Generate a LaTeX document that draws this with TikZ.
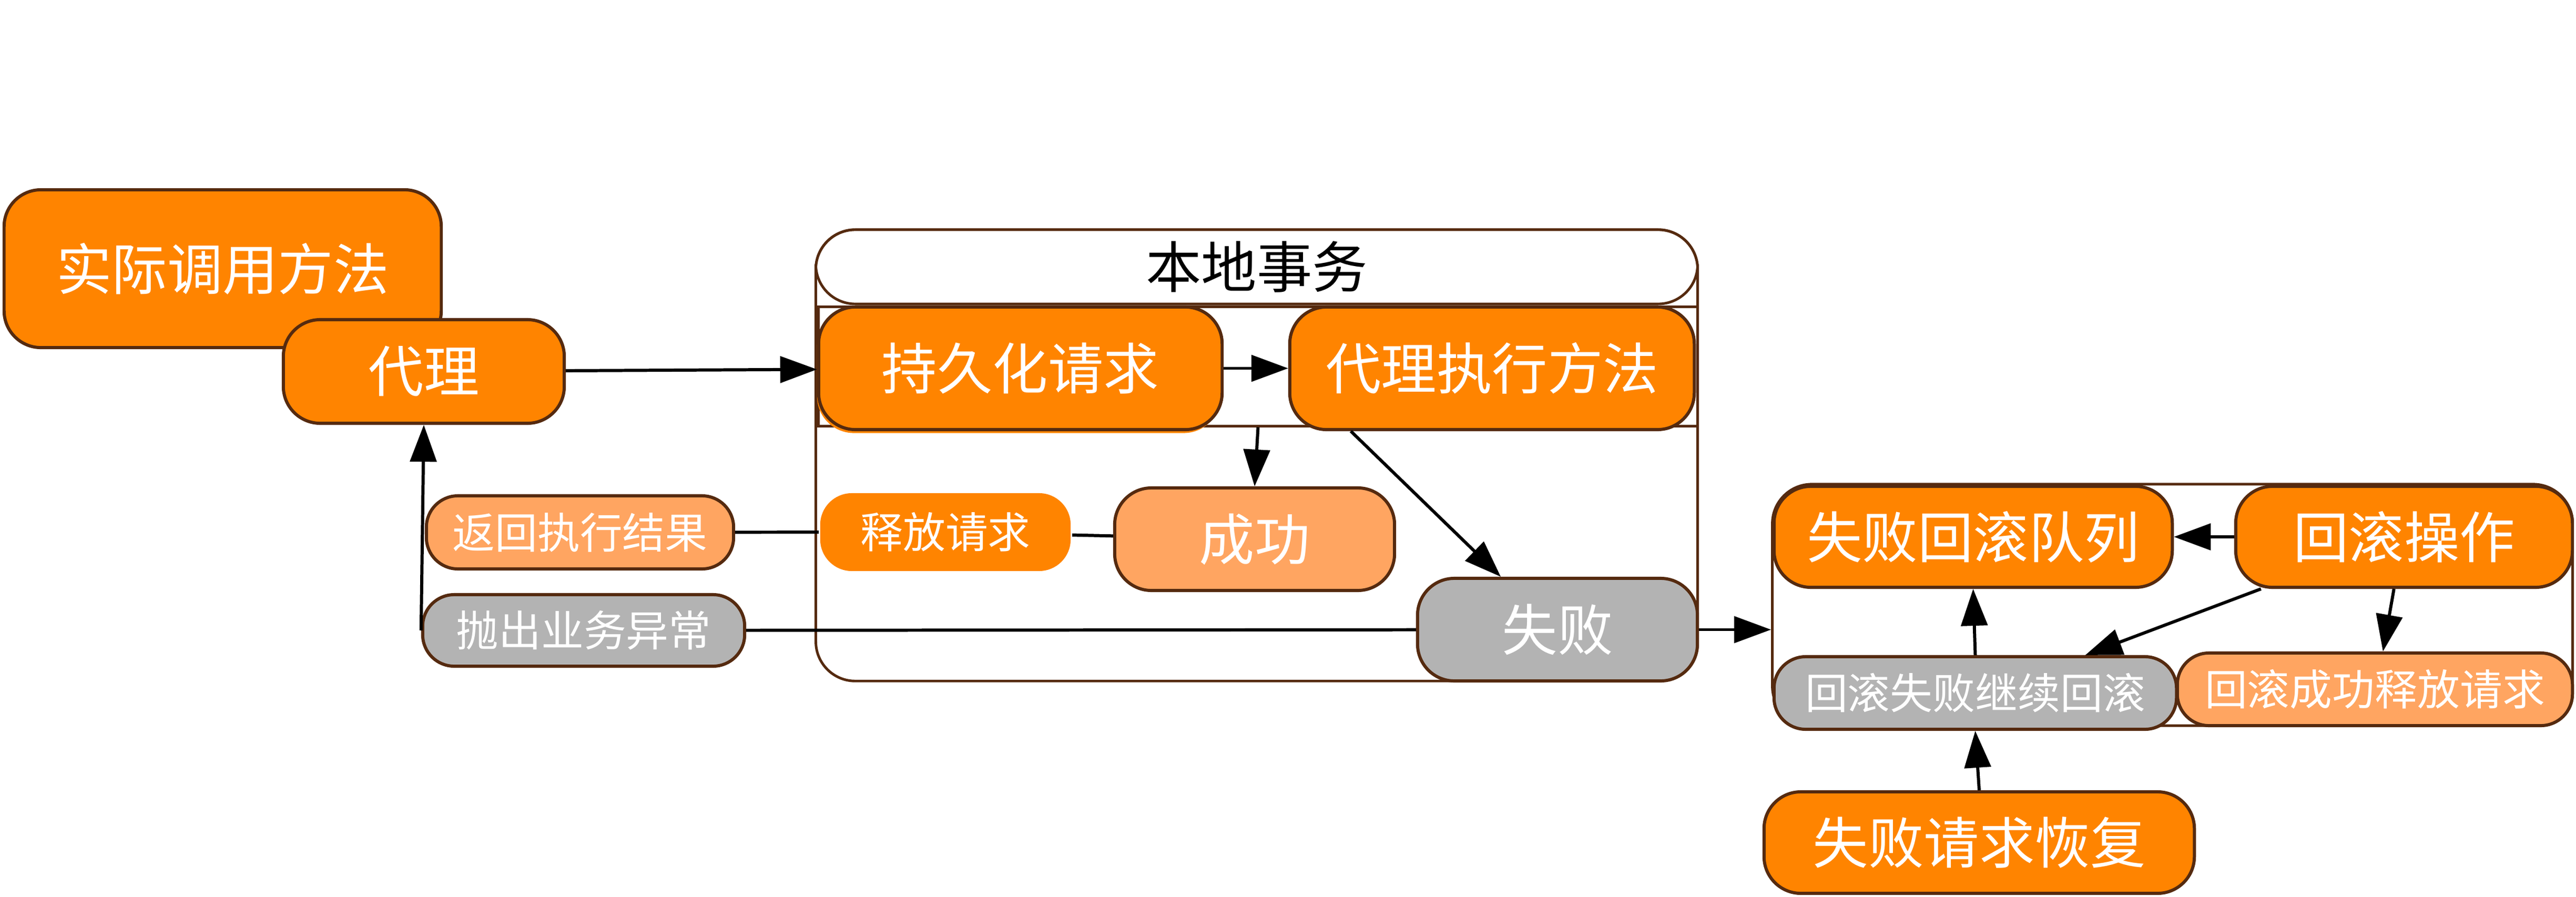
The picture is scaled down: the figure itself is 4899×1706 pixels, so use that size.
\documentclass[tikz,border=0pt]{standalone}
\usepackage{fontspec}
\newfontfamily\cjk{Noto Sans CJK SC}
\usetikzlibrary{arrows.meta}
\definecolor{edge}{HTML}{552A0F}
\definecolor{hot}{HTML}{FF8400}
\definecolor{warm}{HTML}{FFA561}
\definecolor{ash}{HTML}{B3B3B3}
\tikzset{
  box/.style={draw=edge,line width=1.7pt,rounded corners=0.7cm,inner sep=0pt,
    text=white,font=\cjk\fontsize{30}{30}\selectfont},
  tag/.style={box,rounded corners=0.6cm,font=\cjk\fontsize{23}{23}\selectfont},
  frame/.style={draw=edge,line width=1.4pt,rounded corners=0.75cm,inner sep=0pt},
  arr/.style={-{Triangle[length=0.7cm,width=0.5cm]},line width=1.7pt},
}
\begin{document}
\begin{tikzpicture}[x=0.01cm,y=-0.01cm]
  \useasboundingbox (0,0) rectangle (4899,1706);
  \draw
    (2390,866) node[frame,minimum width=16.76cm,minimum height=8.58cm] (localtx){}
    (2390,507.5) node[frame,fill=white,minimum width=16.76cm,minimum height=1.41cm,
      font=\cjk\fontsize{30}{30}\selectfont] (localhead){本地事务}
    (2392.5,697) node[frame,rounded corners=0pt,fill=white,minimum width=16.71cm,
      minimum height=2.26cm] (persistrow){}
    (4131.5,1150.5) node[frame,minimum width=15.21cm,minimum height=4.59cm] (rollzone){};
  \draw
    (423.5,511) node[box,fill=hot,minimum width=8.31cm,minimum height=3cm] (method){实际调用方法}
    (806,706.5) node[box,fill=hot,minimum width=5.34cm,minimum height=1.97cm] (proxy){代理}
    (1103,1012.5) node[tag,fill=warm,minimum width=5.84cm,minimum height=1.39cm] (result){返回执行结果}
    (1110,1199) node[tag,fill=ash,minimum width=6.12cm,minimum height=1.36cm] (throw){抛出业务异常}
    (1937.5,707) node[box,draw=none,fill=hot,minimum width=7.67cm,minimum height=2.33cm] (persistshade){}
    (1940.5,700.5) node[box,fill=hot,minimum width=7.67cm,minimum height=2.33cm] (persist){持久化请求}
    (2837.5,700.5) node[box,fill=hot,minimum width=7.69cm,minimum height=2.33cm] (exec){代理执行方法}
    (1798,1012) node[tag,draw=none,fill=hot,minimum width=4.76cm,minimum height=1.48cm] (release){释放请求}
    (2386,1025.5) node[box,fill=warm,minimum width=5.32cm,minimum height=1.95cm] (success){成功}
    (2962,1197.5) node[box,fill=ash,minimum width=5.32cm,minimum height=1.95cm] (fail){失败}
    (3752.5,1021) node[box,fill=hot,minimum width=7.57cm,minimum height=1.92cm] (queue){失败回滚队列}
    (4572,1021) node[box,fill=hot,minimum width=6.4cm,minimum height=1.92cm] (rollback){回滚操作}
    (3756.5,1318) node[tag,fill=ash,minimum width=7.65cm,minimum height=1.38cm] (retry){回滚失败继续回滚}
    (4516.5,1311) node[tag,fill=warm,minimum width=7.51cm,minimum height=1.38cm] (done){回滚成功释放请求}
    (3764,1602.5) node[box,fill=hot,minimum width=8.18cm,minimum height=1.93cm] (recover){失败请求恢复};
  \begin{scope}[line width=1.7pt]
    \draw (result) to (release);
    \draw (release) to (success);
    \draw (throw) to (fail);
  \end{scope}
  \begin{scope}[arr]
    \draw (proxy) to (persist);
    \draw (persist) to (exec);
    \draw (persistrow.south) to (success.north);
    \draw (exec.204) to (fail.137);
    \draw (throw.west) to (proxy.south);
    \draw (fail.east) to (fail.east -| rollzone.west);
    \draw (rollback) to (queue);
    \draw (retry.north) to (queue.south);
    \draw (rollback.200) to (retry.19);
    \draw (rollback.259) to (done.78);
    \draw (recover.north) to (retry.south);
  \end{scope}
\end{tikzpicture}
\end{document}
